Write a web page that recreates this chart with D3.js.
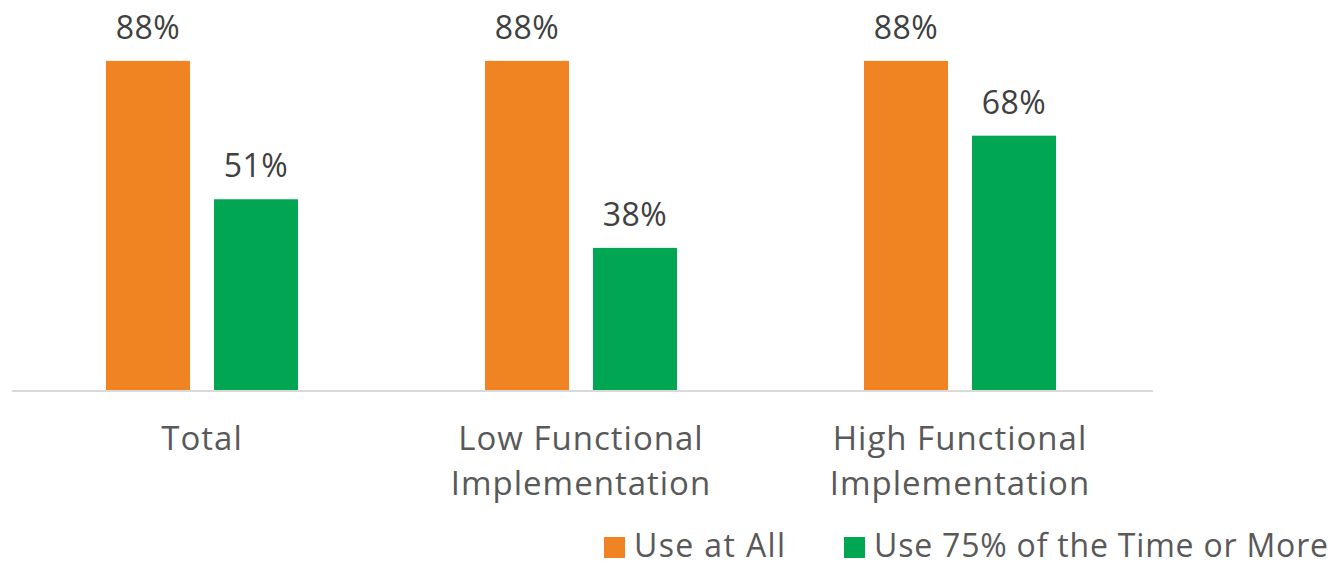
<!DOCTYPE html>
<html>
<head>
<meta charset="utf-8">
<script src="https://cdn.jsdelivr.net/npm/d3@7"></script>
<style>
  body { margin: 0; background: #fff; }
  text { font-family: "Open Sans", sans-serif; }
</style>
</head>
<body>
<script>
var categories = [["Total"], ["Low Functional", "Implementation"], ["High Functional", "Implementation"]];
var seriesNames = ["Use at All", "Use 75% of the Time or More"];
var useAtAll = [88, 88, 88];
var use75 = [51, 38, 68];
var colors = ["#f08322", "#00a651"];

var width = 1331, height = 567;
var svg = d3.select("body").append("svg").attr("width", width).attr("height", height);

var catKeys = categories.map(function(c) { return c.join(" "); });
var x0 = d3.scaleBand().domain(catKeys).range([12.5, 1149.5]).paddingInner(0.4934).paddingOuter(0.2467);
var x1 = d3.scaleBand().domain(seriesNames).range([0, x0.bandwidth()]).paddingInner(0.222);
var y = d3.scaleLinear().domain([0, 100]).range([390, 16]);

var rows = catKeys.map(function(k, i) {
  return { key: k, values: [useAtAll[i], use75[i]] };
});

var groups = svg.selectAll("g.grp").data(rows).enter().append("g")
  .attr("class", "grp")
  .attr("transform", function(d) { return "translate(" + x0(d.key) + ",0)"; });

groups.selectAll("rect").data(function(d) {
  return d.values.map(function(v, j) { return { s: seriesNames[j], v: v, j: j }; });
}).enter().append("rect")
  .attr("x", function(d) { return x1(d.s); })
  .attr("y", function(d) { return y(d.v); })
  .attr("width", x1.bandwidth())
  .attr("height", function(d) { return y(0) - y(d.v); })
  .attr("fill", function(d) { return colors[d.j]; });

groups.selectAll("text.val").data(function(d) {
  return d.values.map(function(v, j) { return { s: seriesNames[j], v: v }; });
}).enter().append("text")
  .attr("class", "val")
  .attr("x", function(d) { return x1(d.s) + x1.bandwidth() / 2; })
  .attr("y", function(d) { return y(d.v) - 22; })
  .attr("text-anchor", "middle")
  .attr("font-size", 32)
  .attr("letter-spacing", 0.5)
  .attr("fill", "#404040")
  .text(function(d) { return d.v + "%"; });

// baseline
svg.append("line")
  .attr("x1", 12).attr("x2", 1153)
  .attr("y1", y(0) + 1).attr("y2", y(0) + 1)
  .attr("stroke", "#d9d9d9").attr("stroke-width", 2);

// category labels
categories.forEach(function(lines, i) {
  var cx = x0(catKeys[i]) + x0.bandwidth() / 2;
  var t = svg.append("text")
    .attr("x", cx)
    .attr("y", 450)
    .attr("text-anchor", "middle")
    .attr("font-size", 33)
    .attr("letter-spacing", 1)
    .attr("fill", "#595959");
  lines.forEach(function(l, k) {
    t.append("tspan").attr("x", cx).attr("dy", k === 0 ? 0 : 45).text(l);
  });
});

// legend
var legendX = [604, 844];
var legendLen = [151, 454];
seriesNames.forEach(function(n, i) {
  svg.append("rect").attr("x", legendX[i]).attr("y", 537).attr("width", 21).attr("height", 21).attr("fill", colors[i]);
  svg.append("text").attr("x", legendX[i] + 30).attr("y", 557)
    .attr("font-size", 32)
    .attr("textLength", legendLen[i]).attr("lengthAdjust", "spacing")
    .attr("fill", "#595959").text(n);
});
</script>
</body>
</html>
